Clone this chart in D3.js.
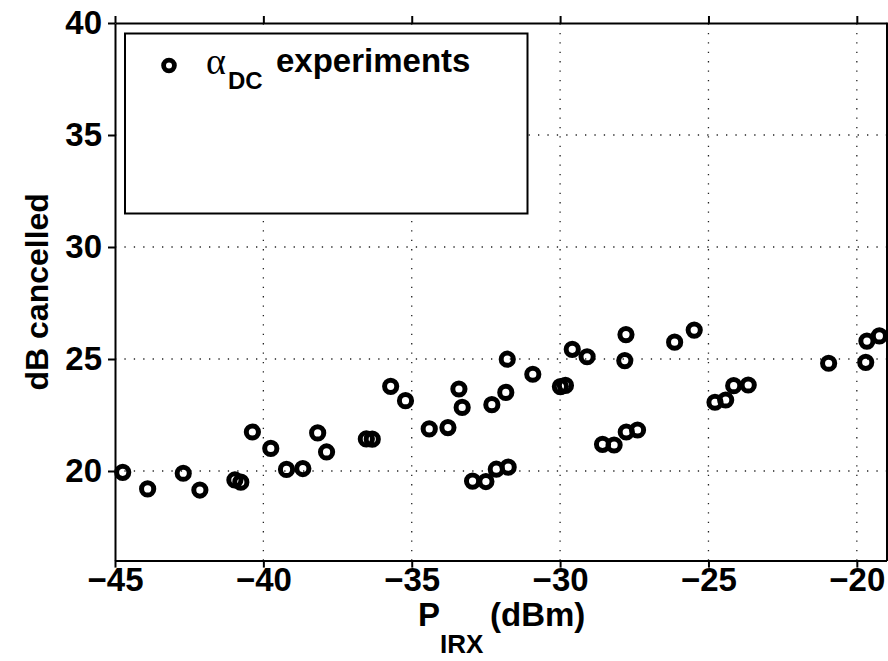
<!DOCTYPE html>
<html>
<head>
<meta charset="utf-8">
<script src="https://cdn.jsdelivr.net/npm/d3@7"></script>
<style>
  html, body { margin: 0; padding: 0; background: #fff; }
  svg { display: block; }
  text { font-family: "Liberation Sans", Arial, Helvetica, sans-serif; font-weight: bold; fill: #000; }
</style>
</head>
<body>
<svg id="chart" width="888" height="661"></svg>
<script>
// Received power at the IRX (dBm) for each run
const pIrx = [
  -44.74, -43.90, -42.70, -42.14, -40.96, -40.76, -40.37, -39.75, -39.22, -38.67,
  -38.17, -37.87, -36.53, -36.33, -35.71, -35.21, -34.41, -33.78, -33.41, -33.30,
  -32.95, -32.50, -32.15, -31.75, -32.30, -31.83, -31.78, -30.92, -29.99, -29.82,
  -29.59, -29.09, -28.57, -28.18, -27.78, -27.82, -27.77, -27.39, -26.14, -25.48,
  -24.78, -24.42, -24.15, -23.66, -20.95, -19.70, -19.66, -19.24
];
// Cancellation achieved in each run (dB)
const dbCancelled = [
  19.94, 19.20, 19.90, 19.15, 19.60, 19.50, 21.74, 21.01, 20.07, 20.11,
  21.70, 20.85, 21.43, 21.42, 23.78, 23.14, 21.88, 21.94, 23.66, 22.84,
  19.55, 19.53, 20.08, 20.17, 22.96, 23.51, 24.99, 24.32, 23.77, 23.82,
  25.43, 25.10, 21.19, 21.16, 26.09, 24.93, 21.74, 21.83, 25.75, 26.29,
  23.07, 23.17, 23.81, 23.84, 24.81, 24.85, 25.80, 26.03
];
const xTicks = [-45, -40, -35, -30, -25, -20];
const yTicks = [20, 25, 30, 35, 40];
const xDomain = [-45, -19];
const yDomain = [16, 40];
const legendLabel = { symbol: "α", sub: "DC", rest: "experiments" };

const svg = d3.select("#chart");
const plot = { left: 115, right: 886.5, top: 23, bottom: 560.6 };

const x = d3.scaleLinear().domain(xDomain).range([plot.left, plot.right]);
const y = d3.scaleLinear().domain(yDomain).range([plot.bottom, plot.top]);

const fmt = d => (d < 0 ? "\u2212" + Math.abs(d) : String(d));

// Dotted grid
const grid = svg.append("g").attr("stroke", "#222").attr("stroke-width", 1.3)
  .attr("stroke-dasharray", "1.3,8.1");
grid.selectAll("line.vx").data(xTicks.filter(t => t > xDomain[0])).join("line")
  .attr("x1", d => x(d)).attr("x2", d => x(d))
  .attr("y1", plot.bottom).attr("y2", plot.top);
grid.selectAll("line.hy").data(yTicks.filter(t => t < yDomain[1])).join("line")
  .attr("x1", plot.left).attr("x2", plot.right)
  .attr("y1", d => y(d)).attr("y2", d => y(d));

// Data markers
svg.append("g").selectAll("circle").data(pIrx.map((p, i) => [p, dbCancelled[i]])).join("circle")
  .attr("cx", d => x(d[0])).attr("cy", d => y(d[1])).attr("r", 6.1)
  .attr("fill", "none").attr("stroke", "#000").attr("stroke-width", 5);

// Axes (boxed, ticks pointing outward)
const axisStyle = g => {
  g.select(".domain").attr("stroke", "#000").attr("stroke-width", 2);
  g.selectAll(".tick line").attr("stroke", "#000").attr("stroke-width", 2);
  g.selectAll(".tick text").attr("font-size", 33).attr("font-weight", "bold")
    .attr("font-family", "Liberation Sans, Arial, sans-serif").attr("fill", "#000");
};
svg.append("g").attr("transform", `translate(0,${plot.bottom})`)
  .call(d3.axisBottom(x).tickValues(xTicks).tickFormat(fmt).tickSizeInner(7).tickSizeOuter(0).tickPadding(0))
  .call(axisStyle);
svg.append("g").attr("transform", `translate(0,${plot.top})`)
  .call(d3.axisTop(x).tickValues(xTicks).tickFormat("").tickSizeInner(7).tickSizeOuter(0))
  .call(axisStyle);
svg.append("g").attr("transform", `translate(${plot.left},0)`)
  .call(d3.axisLeft(y).tickValues(yTicks).tickFormat(fmt).tickSizeInner(7).tickSizeOuter(0).tickPadding(6))
  .call(axisStyle);
svg.append("g").attr("transform", `translate(${plot.right},0)`)
  .call(d3.axisRight(y).tickValues(yTicks).tickFormat("").tickSizeInner(7).tickSizeOuter(0))
  .call(axisStyle);

// Axis titles
const xt = svg.append("text").attr("font-size", 33);
xt.append("tspan").attr("x", 418).attr("y", 626).text("P");
xt.append("tspan").attr("font-size", 26).attr("x", 440).attr("y", 653).text("IRX");
xt.append("tspan").attr("x", 490).attr("y", 626).text("(dBm)");

svg.append("text")
  .attr("transform", `translate(48,${(plot.top + plot.bottom) / 2}) rotate(-90)`)
  .attr("text-anchor", "middle").attr("font-size", 32).text("dB cancelled");

// Legend
const lg = svg.append("g");
lg.append("rect").attr("x", 125).attr("y", 33.5).attr("width", 402.5).attr("height", 180)
  .attr("fill", "#fff").attr("stroke", "#000").attr("stroke-width", 2);
lg.append("circle").attr("cx", 169).attr("cy", 65.5).attr("r", 5.4)
  .attr("fill", "none").attr("stroke", "#000").attr("stroke-width", 4.8);
const lt = lg.append("text").attr("font-size", 33);
lt.append("tspan").attr("x", 206).attr("y", 74)
  .attr("font-family", "Liberation Serif, serif").attr("font-weight", "normal")
  .attr("font-size", 38).text(legendLabel.symbol);
lt.append("tspan").attr("x", 228).attr("y", 89).attr("font-size", 24).text(legendLabel.sub);
lt.append("tspan").attr("x", 276).attr("y", 72).text(legendLabel.rest);
</script>
</body>
</html>
